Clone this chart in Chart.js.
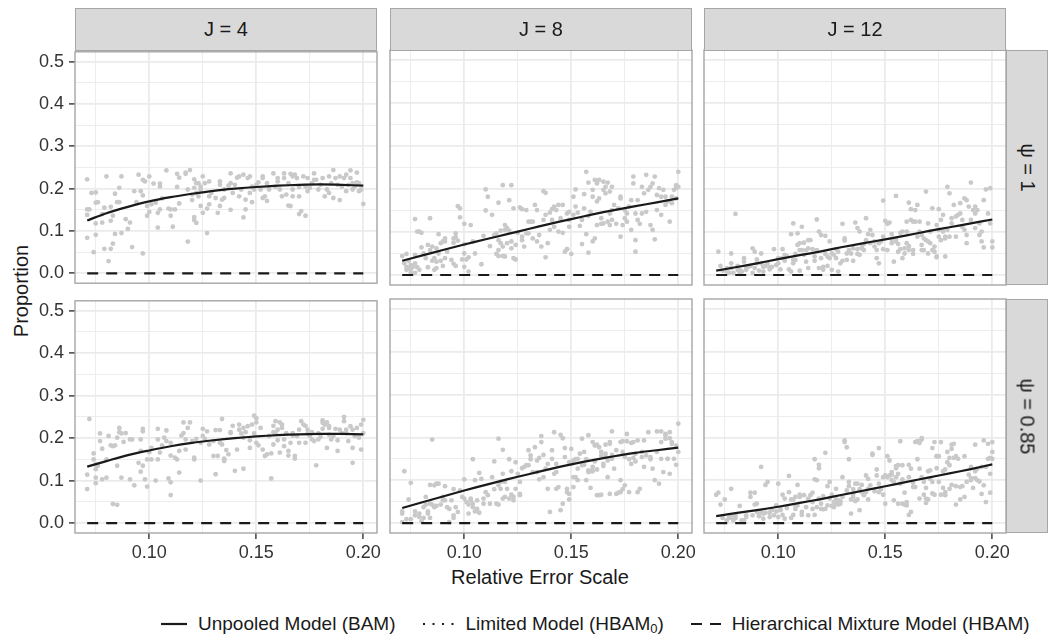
<!DOCTYPE html>
<html>
<head>
<meta charset="utf-8">
<script src="https://cdn.jsdelivr.net/npm/chart.js@4.4.1/dist/chart.umd.min.js"></script>
<style>
  body { margin: 0; background: #fff; width: 1051px; height: 644px; overflow: hidden; position: relative;
         font-family: "Liberation Sans", Arial, sans-serif; }
  canvas { position: absolute; }
  .strip { position: absolute; box-sizing: border-box; background: #d9d9d9; border: 1px solid #a6a6a6;
           color: #1a1a1a; font-size: 20px; display: flex; align-items: center; justify-content: center; }
  .strip.side span { transform: rotate(90deg); white-space: nowrap; }
  .title { position: absolute; color: #1a1a1a; font-size: 20px; white-space: nowrap; }
  #legend { position: absolute; left: 160px; top: 612px; height: 24px; display: flex;
            align-items: center; font-size: 19px; color: #1a1a1a; }
  #legend svg { margin-right: 10px; }
  #legend .lab { margin-right: 26px; white-space: nowrap; }
  #legend .lab:last-child { margin-right: 0; }
  #legend sub { font-size: 13px; vertical-align: -3px; line-height: 0; }
</style>
</head>
<body>
<div class="title" style="left:540px; top:577px; transform: translate(-50%, -50%);">Relative Error Scale</div>
<div class="title" style="left:21px; top:291px; transform: translate(-50%, -50%) rotate(-90deg);">Proportion</div>
<div id="legend">
  <svg width="28" height="10"><line x1="1" y1="5" x2="27" y2="5" stroke="#1a1a1a" stroke-width="2.2"/></svg>
  <span class="lab">Unpooled Model (BAM)</span>
  <svg width="34" height="10"><line x1="2" y1="5" x2="33" y2="5" stroke="#1a1a1a" stroke-width="2.2" stroke-dasharray="2 7.5"/></svg>
  <span class="lab">Limited Model (HBAM<sub>0</sub>)</span>
  <svg width="32" height="10"><line x1="1" y1="5" x2="31" y2="5" stroke="#1a1a1a" stroke-width="2.2" stroke-dasharray="11 8"/></svg>
  <span class="lab">Hierarchical Mixture Model (HBAM)</span>
</div>
<script>
// facet labels and axis ticks
const jLabels = ['J = 4', 'J = 8', 'J = 12'];
const psiLabels = ['ψ = 1', 'ψ = 0.85'];
const xMajor = [0.10, 0.15, 0.20];
const xMinor = [0.075, 0.125, 0.175];
const yMajor = [0.0, 0.1, 0.2, 0.3, 0.4, 0.5];
const yMinor = [0.05, 0.15, 0.25, 0.35, 0.45];

// fitted curves (Unpooled Model) and the Hierarchical Mixture Model line
const curveX = [0.071, 0.08, 0.09, 0.10, 0.11, 0.12, 0.13, 0.14, 0.15, 0.16, 0.17, 0.18, 0.19, 0.20];
const bamJ4Psi1 = [0.125, 0.142, 0.157, 0.170, 0.180, 0.188, 0.195, 0.200, 0.204, 0.207, 0.209, 0.210, 0.209, 0.207];
const bamJ8Psi1 = [0.033, 0.045, 0.058, 0.071, 0.083, 0.095, 0.107, 0.119, 0.130, 0.141, 0.151, 0.160, 0.169, 0.178];
const bamJ12Psi1 = [0.010, 0.018, 0.027, 0.037, 0.046, 0.055, 0.065, 0.074, 0.083, 0.092, 0.102, 0.111, 0.120, 0.129];
const bamJ4Psi85 = [0.133, 0.146, 0.160, 0.171, 0.181, 0.189, 0.195, 0.200, 0.204, 0.207, 0.209, 0.210, 0.210, 0.209];
const bamJ8Psi85 = [0.035, 0.048, 0.062, 0.076, 0.089, 0.102, 0.114, 0.126, 0.137, 0.147, 0.156, 0.164, 0.170, 0.176];
const bamJ12Psi85 = [0.016, 0.023, 0.030, 0.038, 0.047, 0.056, 0.066, 0.076, 0.086, 0.096, 0.106, 0.116, 0.126, 0.137];
const hbamY = [0, 0, 0, 0, 0, 0, 0, 0, 0, 0, 0, 0, 0, 0];

// simulation replicates [relative error scale, proportion]
const ptsJ4Psi1 = [[0.071,0.222],[0.071,0.151],[0.071,0.138],[0.071,0.084],[0.072,0.151],[0.073,0.190],[0.074,0.050],[0.075,0.167],[0.075,0.191],[0.075,0.118],[0.075,0.091],[0.076,0.168],[0.078,0.140],[0.078,0.120],[0.079,0.058],[0.079,0.155],[0.080,0.229],[0.081,0.029],[0.082,0.157],[0.082,0.058],[0.082,0.124],[0.083,0.070],[0.083,0.136],[0.084,0.188],[0.084,0.093],[0.085,0.168],[0.086,0.202],[0.086,0.168],[0.087,0.229],[0.087,0.095],[0.089,0.128],[0.090,0.105],[0.091,0.120],[0.092,0.062],[0.093,0.194],[0.094,0.168],[0.095,0.233],[0.096,0.194],[0.097,0.184],[0.097,0.047],[0.097,0.221],[0.098,0.217],[0.099,0.159],[0.099,0.136],[0.100,0.145],[0.100,0.229],[0.101,0.163],[0.102,0.212],[0.103,0.167],[0.104,0.108],[0.104,0.143],[0.105,0.212],[0.105,0.151],[0.105,0.205],[0.106,0.177],[0.108,0.243],[0.109,0.153],[0.110,0.151],[0.110,0.136],[0.111,0.110],[0.112,0.151],[0.113,0.235],[0.113,0.204],[0.114,0.165],[0.114,0.226],[0.117,0.235],[0.117,0.238],[0.118,0.075],[0.118,0.198],[0.119,0.244],[0.120,0.173],[0.120,0.186],[0.121,0.133],[0.121,0.222],[0.121,0.202],[0.121,0.126],[0.122,0.213],[0.122,0.119],[0.122,0.190],[0.123,0.182],[0.123,0.213],[0.124,0.159],[0.124,0.198],[0.124,0.205],[0.125,0.143],[0.125,0.229],[0.126,0.213],[0.127,0.153],[0.127,0.095],[0.128,0.182],[0.128,0.217],[0.128,0.163],[0.129,0.190],[0.131,0.178],[0.132,0.143],[0.133,0.217],[0.133,0.209],[0.133,0.159],[0.134,0.174],[0.135,0.178],[0.135,0.198],[0.137,0.207],[0.138,0.236],[0.138,0.150],[0.138,0.213],[0.139,0.190],[0.140,0.209],[0.141,0.226],[0.142,0.182],[0.142,0.229],[0.143,0.198],[0.144,0.233],[0.144,0.132],[0.145,0.174],[0.145,0.151],[0.146,0.225],[0.147,0.190],[0.147,0.229],[0.148,0.205],[0.148,0.168],[0.149,0.198],[0.150,0.209],[0.151,0.215],[0.152,0.198],[0.153,0.225],[0.153,0.178],[0.153,0.229],[0.154,0.182],[0.155,0.171],[0.155,0.213],[0.156,0.198],[0.158,0.236],[0.159,0.204],[0.160,0.217],[0.160,0.225],[0.161,0.198],[0.162,0.182],[0.163,0.225],[0.163,0.236],[0.164,0.186],[0.165,0.160],[0.165,0.213],[0.166,0.159],[0.166,0.235],[0.167,0.229],[0.167,0.182],[0.167,0.198],[0.168,0.233],[0.169,0.225],[0.170,0.140],[0.170,0.204],[0.170,0.182],[0.171,0.147],[0.172,0.229],[0.173,0.136],[0.173,0.205],[0.174,0.194],[0.174,0.225],[0.175,0.202],[0.176,0.213],[0.177,0.221],[0.177,0.236],[0.178,0.221],[0.179,0.198],[0.180,0.209],[0.181,0.225],[0.182,0.182],[0.183,0.198],[0.184,0.229],[0.184,0.190],[0.185,0.213],[0.186,0.244],[0.186,0.178],[0.187,0.225],[0.188,0.209],[0.189,0.229],[0.189,0.173],[0.190,0.205],[0.191,0.225],[0.192,0.233],[0.192,0.194],[0.193,0.209],[0.194,0.243],[0.194,0.225],[0.195,0.213],[0.195,0.198],[0.196,0.205],[0.197,0.215],[0.197,0.238],[0.198,0.194],[0.198,0.213],[0.199,0.198],[0.200,0.164]];

const ptsJ8Psi1 = [[0.071,0.044],[0.072,0.027],[0.073,0.019],[0.073,0.012],[0.073,0.049],[0.074,0.033],[0.074,0.016],[0.075,0.005],[0.075,0.023],[0.075,0.012],[0.076,0.019],[0.077,0.130],[0.077,0.047],[0.077,0.027],[0.077,0.005],[0.078,0.018],[0.078,0.101],[0.079,0.012],[0.079,0.101],[0.080,0.098],[0.080,0.064],[0.081,0.050],[0.082,0.039],[0.083,0.070],[0.083,0.018],[0.084,0.058],[0.084,0.132],[0.085,0.066],[0.085,0.033],[0.086,0.039],[0.086,0.012],[0.087,0.031],[0.087,0.062],[0.087,0.016],[0.088,0.095],[0.088,0.050],[0.089,0.074],[0.089,0.033],[0.090,0.078],[0.090,0.021],[0.091,0.085],[0.091,0.078],[0.091,0.039],[0.092,0.054],[0.094,0.035],[0.095,0.085],[0.095,0.075],[0.095,0.026],[0.096,0.088],[0.096,0.021],[0.096,0.097],[0.097,0.160],[0.097,0.080],[0.098,0.155],[0.098,0.134],[0.099,0.036],[0.100,0.050],[0.100,0.119],[0.100,0.072],[0.100,0.019],[0.101,0.036],[0.102,0.008],[0.102,0.041],[0.103,0.116],[0.104,0.078],[0.105,0.050],[0.108,0.025],[0.109,0.091],[0.110,0.199],[0.110,0.150],[0.111,0.182],[0.112,0.067],[0.113,0.140],[0.114,0.093],[0.115,0.097],[0.115,0.049],[0.116,0.168],[0.116,0.058],[0.116,0.044],[0.116,0.081],[0.117,0.074],[0.117,0.103],[0.118,0.066],[0.118,0.209],[0.118,0.044],[0.119,0.105],[0.119,0.116],[0.119,0.043],[0.120,0.074],[0.120,0.109],[0.121,0.174],[0.121,0.103],[0.122,0.209],[0.122,0.078],[0.122,0.062],[0.123,0.039],[0.123,0.155],[0.124,0.036],[0.124,0.070],[0.125,0.098],[0.126,0.157],[0.127,0.089],[0.127,0.081],[0.127,0.153],[0.128,0.066],[0.129,0.097],[0.129,0.151],[0.130,0.124],[0.130,0.097],[0.131,0.124],[0.132,0.124],[0.132,0.085],[0.133,0.163],[0.134,0.151],[0.134,0.078],[0.135,0.093],[0.136,0.066],[0.137,0.128],[0.137,0.195],[0.138,0.041],[0.138,0.140],[0.138,0.191],[0.139,0.074],[0.140,0.145],[0.140,0.105],[0.141,0.153],[0.141,0.128],[0.142,0.159],[0.142,0.112],[0.143,0.151],[0.144,0.163],[0.144,0.101],[0.145,0.132],[0.146,0.098],[0.146,0.163],[0.147,0.054],[0.148,0.060],[0.148,0.143],[0.148,0.060],[0.149,0.128],[0.149,0.147],[0.149,0.112],[0.150,0.049],[0.151,0.182],[0.151,0.140],[0.152,0.199],[0.152,0.159],[0.153,0.145],[0.154,0.114],[0.155,0.128],[0.155,0.072],[0.156,0.188],[0.156,0.155],[0.157,0.240],[0.157,0.095],[0.158,0.215],[0.158,0.052],[0.158,0.137],[0.159,0.147],[0.160,0.198],[0.160,0.078],[0.160,0.182],[0.161,0.085],[0.161,0.221],[0.162,0.171],[0.162,0.116],[0.162,0.213],[0.163,0.178],[0.163,0.221],[0.164,0.119],[0.164,0.132],[0.165,0.120],[0.165,0.198],[0.165,0.217],[0.166,0.190],[0.166,0.205],[0.167,0.124],[0.167,0.215],[0.168,0.194],[0.168,0.116],[0.168,0.143],[0.169,0.151],[0.169,0.205],[0.169,0.128],[0.170,0.163],[0.171,0.119],[0.172,0.155],[0.173,0.182],[0.173,0.089],[0.173,0.178],[0.174,0.116],[0.175,0.132],[0.175,0.151],[0.176,0.143],[0.176,0.124],[0.177,0.159],[0.178,0.105],[0.178,0.174],[0.179,0.229],[0.179,0.213],[0.180,0.054],[0.180,0.081],[0.180,0.143],[0.181,0.174],[0.181,0.128],[0.182,0.119],[0.183,0.205],[0.183,0.143],[0.184,0.190],[0.185,0.233],[0.185,0.147],[0.186,0.198],[0.187,0.205],[0.187,0.116],[0.188,0.213],[0.188,0.105],[0.189,0.083],[0.189,0.229],[0.190,0.151],[0.190,0.186],[0.191,0.202],[0.192,0.140],[0.192,0.182],[0.193,0.198],[0.194,0.163],[0.194,0.182],[0.195,0.171],[0.196,0.124],[0.197,0.182],[0.197,0.167],[0.198,0.198],[0.199,0.209],[0.199,0.202],[0.199,0.178],[0.200,0.240],[0.200,0.205]];

const ptsJ12Psi1 = [[0.072,0.054],[0.073,0.021],[0.074,0.010],[0.076,0.008],[0.076,0.016],[0.077,0.005],[0.078,0.050],[0.078,0.027],[0.078,0.016],[0.079,0.005],[0.080,0.142],[0.081,0.012],[0.081,0.021],[0.082,0.005],[0.082,0.012],[0.083,0.008],[0.084,0.031],[0.084,0.039],[0.085,0.016],[0.085,0.012],[0.086,0.019],[0.087,0.021],[0.088,0.062],[0.088,0.005],[0.089,0.016],[0.089,0.054],[0.090,0.027],[0.090,0.036],[0.091,0.010],[0.092,0.050],[0.092,0.027],[0.093,0.019],[0.093,0.008],[0.094,0.021],[0.095,0.027],[0.096,0.013],[0.096,0.018],[0.097,0.019],[0.098,0.060],[0.099,0.023],[0.100,0.027],[0.100,0.039],[0.101,0.013],[0.102,0.039],[0.102,0.060],[0.103,0.033],[0.103,0.047],[0.104,0.044],[0.105,0.013],[0.106,0.008],[0.106,0.095],[0.107,0.027],[0.107,0.035],[0.107,0.120],[0.108,0.035],[0.108,0.049],[0.109,0.097],[0.109,0.070],[0.110,0.058],[0.110,0.010],[0.110,0.074],[0.111,0.058],[0.111,0.112],[0.112,0.047],[0.112,0.075],[0.113,0.031],[0.113,0.058],[0.114,0.081],[0.114,0.016],[0.114,0.062],[0.115,0.081],[0.116,0.060],[0.117,0.033],[0.117,0.043],[0.118,0.129],[0.118,0.058],[0.119,0.101],[0.119,0.016],[0.120,0.093],[0.120,0.039],[0.121,0.019],[0.121,0.012],[0.122,0.091],[0.122,0.049],[0.123,0.043],[0.123,0.021],[0.124,0.039],[0.124,0.078],[0.125,0.050],[0.125,0.012],[0.126,0.047],[0.127,0.060],[0.127,0.039],[0.128,0.008],[0.128,0.054],[0.129,0.027],[0.130,0.119],[0.130,0.033],[0.131,0.080],[0.131,0.085],[0.132,0.050],[0.132,0.035],[0.133,0.058],[0.134,0.050],[0.135,0.033],[0.135,0.062],[0.136,0.122],[0.137,0.049],[0.137,0.060],[0.137,0.109],[0.138,0.101],[0.138,0.047],[0.139,0.062],[0.139,0.064],[0.140,0.058],[0.140,0.072],[0.141,0.081],[0.141,0.132],[0.142,0.095],[0.143,0.074],[0.143,0.105],[0.144,0.093],[0.145,0.078],[0.145,0.066],[0.146,0.058],[0.146,0.039],[0.147,0.027],[0.147,0.074],[0.148,0.078],[0.149,0.089],[0.149,0.173],[0.149,0.060],[0.150,0.126],[0.151,0.058],[0.151,0.119],[0.152,0.122],[0.153,0.074],[0.153,0.095],[0.153,0.083],[0.154,0.031],[0.155,0.184],[0.155,0.078],[0.155,0.083],[0.156,0.054],[0.156,0.072],[0.157,0.098],[0.157,0.060],[0.158,0.101],[0.158,0.039],[0.159,0.062],[0.159,0.050],[0.160,0.124],[0.160,0.074],[0.160,0.101],[0.161,0.168],[0.161,0.058],[0.161,0.067],[0.162,0.153],[0.162,0.128],[0.163,0.058],[0.163,0.124],[0.163,0.049],[0.164,0.151],[0.164,0.124],[0.165,0.163],[0.165,0.089],[0.166,0.101],[0.166,0.124],[0.167,0.093],[0.167,0.058],[0.167,0.070],[0.168,0.085],[0.168,0.058],[0.169,0.194],[0.169,0.081],[0.170,0.050],[0.170,0.120],[0.170,0.078],[0.171,0.101],[0.171,0.074],[0.172,0.058],[0.172,0.155],[0.173,0.054],[0.173,0.066],[0.174,0.041],[0.174,0.116],[0.174,0.043],[0.175,0.089],[0.175,0.153],[0.175,0.105],[0.176,0.128],[0.176,0.081],[0.177,0.140],[0.177,0.101],[0.178,0.043],[0.178,0.085],[0.178,0.089],[0.179,0.105],[0.179,0.205],[0.180,0.089],[0.180,0.190],[0.181,0.120],[0.181,0.132],[0.182,0.163],[0.183,0.089],[0.183,0.136],[0.184,0.140],[0.185,0.143],[0.185,0.167],[0.186,0.112],[0.186,0.128],[0.187,0.178],[0.187,0.105],[0.188,0.174],[0.188,0.074],[0.188,0.093],[0.189,0.159],[0.190,0.128],[0.190,0.215],[0.191,0.151],[0.192,0.143],[0.192,0.109],[0.192,0.159],[0.193,0.151],[0.194,0.120],[0.194,0.093],[0.195,0.101],[0.195,0.078],[0.196,0.174],[0.196,0.064],[0.197,0.199],[0.198,0.143],[0.199,0.202],[0.199,0.120],[0.200,0.078],[0.200,0.064]];

const ptsJ4Psi85 = [[0.071,0.114],[0.071,0.080],[0.072,0.245],[0.074,0.164],[0.074,0.150],[0.075,0.127],[0.075,0.138],[0.075,0.107],[0.075,0.094],[0.076,0.135],[0.077,0.211],[0.077,0.193],[0.078,0.175],[0.078,0.103],[0.080,0.150],[0.080,0.107],[0.081,0.205],[0.082,0.183],[0.083,0.181],[0.083,0.045],[0.084,0.183],[0.085,0.043],[0.085,0.201],[0.085,0.135],[0.086,0.224],[0.086,0.214],[0.087,0.107],[0.087,0.211],[0.088,0.191],[0.089,0.212],[0.091,0.103],[0.091,0.197],[0.092,0.197],[0.093,0.089],[0.095,0.142],[0.096,0.197],[0.096,0.121],[0.096,0.170],[0.097,0.135],[0.097,0.222],[0.097,0.216],[0.098,0.103],[0.099,0.086],[0.099,0.150],[0.100,0.167],[0.101,0.150],[0.101,0.177],[0.103,0.100],[0.104,0.222],[0.104,0.150],[0.104,0.197],[0.105,0.166],[0.106,0.183],[0.107,0.201],[0.108,0.218],[0.108,0.193],[0.109,0.105],[0.110,0.189],[0.110,0.096],[0.110,0.066],[0.110,0.159],[0.112,0.154],[0.113,0.150],[0.114,0.119],[0.114,0.170],[0.115,0.206],[0.116,0.237],[0.116,0.212],[0.117,0.173],[0.117,0.197],[0.118,0.224],[0.119,0.237],[0.120,0.193],[0.121,0.154],[0.121,0.150],[0.122,0.198],[0.124,0.189],[0.124,0.100],[0.125,0.205],[0.125,0.222],[0.126,0.198],[0.127,0.216],[0.128,0.185],[0.130,0.158],[0.130,0.193],[0.131,0.115],[0.131,0.219],[0.132,0.158],[0.133,0.219],[0.133,0.189],[0.134,0.245],[0.134,0.185],[0.135,0.152],[0.135,0.146],[0.135,0.150],[0.136,0.172],[0.137,0.162],[0.138,0.214],[0.138,0.212],[0.139,0.229],[0.140,0.123],[0.141,0.173],[0.142,0.232],[0.142,0.220],[0.143,0.211],[0.144,0.201],[0.144,0.128],[0.144,0.224],[0.145,0.214],[0.146,0.228],[0.147,0.177],[0.147,0.195],[0.148,0.232],[0.149,0.211],[0.149,0.253],[0.150,0.189],[0.150,0.247],[0.150,0.237],[0.151,0.183],[0.152,0.224],[0.153,0.173],[0.154,0.158],[0.155,0.162],[0.156,0.205],[0.157,0.105],[0.157,0.164],[0.158,0.214],[0.158,0.229],[0.158,0.185],[0.159,0.240],[0.159,0.212],[0.160,0.195],[0.160,0.220],[0.161,0.237],[0.161,0.166],[0.162,0.224],[0.162,0.232],[0.163,0.181],[0.163,0.197],[0.164,0.212],[0.165,0.159],[0.165,0.170],[0.166,0.189],[0.167,0.212],[0.167,0.206],[0.168,0.158],[0.168,0.152],[0.169,0.205],[0.170,0.189],[0.170,0.220],[0.171,0.240],[0.172,0.232],[0.173,0.229],[0.173,0.189],[0.174,0.220],[0.174,0.211],[0.175,0.205],[0.176,0.197],[0.176,0.214],[0.177,0.193],[0.178,0.136],[0.179,0.212],[0.179,0.197],[0.180,0.203],[0.181,0.242],[0.181,0.236],[0.181,0.222],[0.182,0.232],[0.183,0.177],[0.183,0.237],[0.184,0.208],[0.184,0.228],[0.184,0.224],[0.185,0.197],[0.186,0.205],[0.187,0.222],[0.188,0.195],[0.188,0.170],[0.189,0.220],[0.190,0.212],[0.191,0.250],[0.191,0.240],[0.192,0.220],[0.192,0.212],[0.193,0.193],[0.194,0.228],[0.195,0.142],[0.195,0.177],[0.195,0.220],[0.196,0.205],[0.197,0.224],[0.198,0.201],[0.199,0.173],[0.199,0.232],[0.200,0.243],[0.200,0.212]];

const ptsJ8Psi85 = [[0.071,0.027],[0.071,0.022],[0.071,0.002],[0.072,0.121],[0.073,0.009],[0.074,0.055],[0.075,0.094],[0.075,0.009],[0.077,0.027],[0.077,0.018],[0.079,0.022],[0.079,0.014],[0.080,0.004],[0.081,0.037],[0.081,0.012],[0.082,0.061],[0.082,0.043],[0.083,0.022],[0.083,0.027],[0.084,0.045],[0.084,0.089],[0.084,0.012],[0.085,0.043],[0.085,0.195],[0.086,0.037],[0.086,0.088],[0.087,0.092],[0.087,0.040],[0.088,0.092],[0.089,0.043],[0.090,0.053],[0.090,0.061],[0.091,0.053],[0.091,0.086],[0.092,0.037],[0.093,0.002],[0.093,0.033],[0.094,0.053],[0.095,0.079],[0.095,0.012],[0.095,0.018],[0.096,0.037],[0.097,0.026],[0.098,0.076],[0.099,0.061],[0.100,0.102],[0.100,0.057],[0.101,0.049],[0.102,0.043],[0.102,0.022],[0.103,0.057],[0.103,0.053],[0.104,0.149],[0.104,0.045],[0.104,0.037],[0.105,0.100],[0.105,0.027],[0.106,0.033],[0.106,0.053],[0.107,0.024],[0.107,0.117],[0.108,0.103],[0.109,0.045],[0.109,0.057],[0.110,0.072],[0.111,0.065],[0.112,0.045],[0.113,0.107],[0.114,0.144],[0.114,0.079],[0.115,0.045],[0.116,0.197],[0.116,0.088],[0.116,0.043],[0.117,0.080],[0.117,0.096],[0.118,0.115],[0.118,0.171],[0.118,0.057],[0.119,0.096],[0.119,0.061],[0.120,0.080],[0.121,0.149],[0.121,0.057],[0.122,0.066],[0.122,0.121],[0.123,0.061],[0.123,0.053],[0.124,0.142],[0.124,0.080],[0.125,0.115],[0.126,0.068],[0.126,0.065],[0.126,0.096],[0.127,0.128],[0.128,0.131],[0.129,0.135],[0.130,0.135],[0.130,0.170],[0.131,0.158],[0.131,0.149],[0.132,0.119],[0.133,0.177],[0.134,0.119],[0.134,0.146],[0.135,0.152],[0.135,0.102],[0.136,0.203],[0.136,0.189],[0.137,0.107],[0.137,0.159],[0.138,0.127],[0.139,0.138],[0.139,0.080],[0.140,0.026],[0.141,0.150],[0.141,0.170],[0.142,0.115],[0.142,0.212],[0.143,0.119],[0.143,0.080],[0.143,0.138],[0.144,0.084],[0.145,0.206],[0.145,0.030],[0.146,0.198],[0.146,0.045],[0.147,0.175],[0.147,0.154],[0.148,0.080],[0.148,0.072],[0.149,0.068],[0.149,0.142],[0.149,0.055],[0.150,0.138],[0.150,0.173],[0.151,0.084],[0.151,0.146],[0.151,0.107],[0.152,0.107],[0.152,0.149],[0.153,0.100],[0.153,0.127],[0.153,0.150],[0.154,0.162],[0.155,0.135],[0.155,0.197],[0.156,0.136],[0.156,0.166],[0.157,0.100],[0.157,0.149],[0.158,0.123],[0.158,0.119],[0.158,0.205],[0.159,0.082],[0.159,0.121],[0.160,0.189],[0.160,0.131],[0.160,0.121],[0.161,0.181],[0.161,0.144],[0.162,0.125],[0.162,0.183],[0.162,0.065],[0.163,0.177],[0.163,0.065],[0.164,0.158],[0.164,0.166],[0.164,0.066],[0.165,0.133],[0.165,0.138],[0.166,0.183],[0.166,0.154],[0.166,0.162],[0.167,0.107],[0.167,0.146],[0.168,0.189],[0.168,0.068],[0.168,0.185],[0.169,0.150],[0.169,0.159],[0.169,0.214],[0.170,0.127],[0.171,0.068],[0.171,0.170],[0.172,0.071],[0.173,0.072],[0.173,0.189],[0.173,0.100],[0.174,0.166],[0.174,0.191],[0.174,0.079],[0.175,0.154],[0.175,0.088],[0.176,0.191],[0.176,0.208],[0.177,0.072],[0.177,0.149],[0.178,0.138],[0.178,0.187],[0.179,0.189],[0.179,0.152],[0.180,0.162],[0.180,0.144],[0.181,0.193],[0.181,0.072],[0.182,0.080],[0.183,0.166],[0.183,0.154],[0.184,0.131],[0.184,0.193],[0.185,0.158],[0.186,0.212],[0.187,0.149],[0.187,0.154],[0.188,0.127],[0.189,0.100],[0.190,0.214],[0.190,0.166],[0.191,0.092],[0.192,0.189],[0.192,0.214],[0.192,0.150],[0.193,0.119],[0.194,0.205],[0.194,0.208],[0.194,0.197],[0.195,0.150],[0.195,0.150],[0.196,0.212],[0.196,0.115],[0.196,0.198],[0.197,0.185],[0.197,0.189],[0.198,0.150],[0.199,0.136],[0.199,0.181],[0.200,0.166],[0.200,0.232]];

const ptsJ12Psi85 = [[0.071,0.066],[0.072,0.071],[0.073,0.043],[0.074,0.012],[0.075,0.055],[0.076,0.006],[0.077,0.012],[0.078,0.080],[0.078,0.014],[0.079,0.006],[0.080,0.012],[0.080,0.018],[0.082,0.040],[0.083,0.006],[0.083,0.006],[0.084,0.006],[0.085,0.018],[0.085,0.014],[0.087,0.071],[0.087,0.061],[0.088,0.018],[0.089,0.043],[0.089,0.071],[0.090,0.045],[0.090,0.026],[0.091,0.016],[0.091,0.019],[0.092,0.026],[0.092,0.131],[0.093,0.010],[0.093,0.022],[0.094,0.024],[0.094,0.089],[0.095,0.096],[0.096,0.024],[0.096,0.014],[0.097,0.030],[0.098,0.018],[0.099,0.041],[0.099,0.027],[0.100,0.014],[0.100,0.092],[0.101,0.033],[0.101,0.030],[0.102,0.019],[0.102,0.066],[0.103,0.057],[0.103,0.010],[0.104,0.035],[0.105,0.110],[0.105,0.072],[0.106,0.055],[0.106,0.012],[0.107,0.019],[0.107,0.055],[0.108,0.061],[0.108,0.040],[0.108,0.033],[0.109,0.089],[0.109,0.041],[0.110,0.066],[0.110,0.061],[0.111,0.019],[0.111,0.026],[0.112,0.065],[0.113,0.037],[0.114,0.018],[0.114,0.057],[0.115,0.065],[0.116,0.071],[0.116,0.033],[0.116,0.049],[0.117,0.019],[0.117,0.149],[0.117,0.102],[0.118,0.037],[0.118,0.100],[0.119,0.136],[0.119,0.057],[0.119,0.128],[0.120,0.045],[0.120,0.033],[0.121,0.032],[0.121,0.063],[0.122,0.164],[0.122,0.033],[0.123,0.041],[0.123,0.086],[0.124,0.096],[0.124,0.057],[0.125,0.040],[0.125,0.066],[0.126,0.049],[0.126,0.037],[0.127,0.055],[0.127,0.080],[0.127,0.045],[0.128,0.051],[0.128,0.043],[0.128,0.053],[0.129,0.045],[0.129,0.051],[0.130,0.107],[0.130,0.061],[0.131,0.193],[0.131,0.189],[0.132,0.076],[0.132,0.177],[0.133,0.086],[0.133,0.096],[0.133,0.149],[0.134,0.022],[0.134,0.055],[0.135,0.068],[0.135,0.079],[0.135,0.061],[0.136,0.092],[0.136,0.051],[0.137,0.055],[0.137,0.092],[0.138,0.030],[0.138,0.079],[0.139,0.072],[0.139,0.089],[0.140,0.065],[0.140,0.066],[0.141,0.111],[0.141,0.072],[0.142,0.055],[0.142,0.080],[0.142,0.103],[0.143,0.088],[0.144,0.162],[0.144,0.159],[0.145,0.074],[0.146,0.111],[0.146,0.125],[0.147,0.175],[0.147,0.072],[0.147,0.092],[0.148,0.079],[0.149,0.066],[0.149,0.107],[0.150,0.045],[0.150,0.111],[0.151,0.107],[0.151,0.156],[0.152,0.111],[0.152,0.146],[0.153,0.113],[0.153,0.119],[0.153,0.100],[0.154,0.096],[0.154,0.053],[0.155,0.128],[0.155,0.107],[0.155,0.133],[0.156,0.135],[0.156,0.045],[0.156,0.115],[0.157,0.092],[0.157,0.191],[0.158,0.135],[0.158,0.102],[0.158,0.045],[0.159,0.043],[0.159,0.071],[0.160,0.041],[0.160,0.049],[0.161,0.019],[0.161,0.107],[0.161,0.136],[0.162,0.127],[0.162,0.026],[0.163,0.094],[0.163,0.084],[0.164,0.084],[0.164,0.189],[0.165,0.149],[0.165,0.191],[0.166,0.187],[0.166,0.127],[0.166,0.057],[0.167,0.107],[0.167,0.198],[0.167,0.195],[0.168,0.096],[0.168,0.066],[0.169,0.082],[0.169,0.057],[0.169,0.047],[0.170,0.055],[0.170,0.121],[0.171,0.103],[0.171,0.123],[0.172,0.096],[0.172,0.175],[0.172,0.069],[0.173,0.066],[0.173,0.189],[0.174,0.156],[0.174,0.128],[0.174,0.156],[0.175,0.096],[0.175,0.156],[0.176,0.066],[0.176,0.189],[0.177,0.082],[0.177,0.121],[0.178,0.072],[0.178,0.065],[0.178,0.125],[0.179,0.142],[0.179,0.166],[0.180,0.152],[0.180,0.080],[0.180,0.135],[0.181,0.173],[0.181,0.183],[0.181,0.089],[0.182,0.152],[0.182,0.185],[0.183,0.086],[0.183,0.156],[0.183,0.043],[0.184,0.150],[0.185,0.084],[0.185,0.055],[0.186,0.086],[0.187,0.156],[0.187,0.061],[0.188,0.096],[0.189,0.113],[0.190,0.105],[0.190,0.100],[0.190,0.131],[0.191,0.082],[0.192,0.121],[0.192,0.183],[0.192,0.105],[0.193,0.100],[0.193,0.127],[0.194,0.097],[0.195,0.068],[0.195,0.131],[0.196,0.088],[0.196,0.193],[0.197,0.049],[0.197,0.131],[0.198,0.150],[0.198,0.185],[0.199,0.115],[0.199,0.071],[0.199,0.152],[0.200,0.166],[0.200,0.189],[0.200,0.150]];

const panelPoints = [[ptsJ4Psi1, ptsJ8Psi1, ptsJ12Psi1], [ptsJ4Psi85, ptsJ8Psi85, ptsJ12Psi85]];
const panelCurves = [[bamJ4Psi1, bamJ8Psi1, bamJ12Psi1], [bamJ4Psi85, bamJ8Psi85, bamJ12Psi85]];

// page layout
const colLeft = [75, 390, 704];
const panelW = 302;
const rowTop = [50, 299];
const rowH = [235, 234];
const axisW = 75, xAxisH = 45, padT = 14, padB = 14, padR = 20;
const fontFamily = '"Liberation Sans", Arial, sans-serif';

const panelBorder = {
  id: 'panelBorder',
  afterDraw(chart) {
    const { ctx, chartArea: a } = chart;
    ctx.save();
    ctx.strokeStyle = '#a6a6a6';
    ctx.lineWidth = 1.4;
    ctx.strokeRect(a.left, a.top, a.right - a.left, a.bottom - a.top);
    ctx.restore();
  }
};

function tickList(major, minor) {
  return major.map(v => ({ value: v, major: true }))
    .concat(minor.map(v => ({ value: v, major: false })))
    .sort((a, b) => a.value - b.value);
}

function gridOpts(showTicks) {
  return {
    color: '#ebebeb',
    lineWidth: c => (c.tick && c.tick.major ? 1.8 : 0.9),
    drawTicks: showTicks,
    tickLength: 6,
    tickWidth: 1.4,
    tickColor: c => (c.tick && c.tick.major ? '#333333' : 'rgba(0,0,0,0)')
  };
}

function makePanel(r, c) {
  const bottom = r === 1, left = c === 0;
  const canvas = document.createElement('canvas');
  canvas.width = axisW + panelW + padR;
  canvas.height = padT + rowH[r] + (bottom ? xAxisH : 0) + padB;
  canvas.style.left = (colLeft[c] - axisW) + 'px';
  canvas.style.top = (rowTop[r] - padT) + 'px';
  document.body.appendChild(canvas);

  const pts = panelPoints[r][c];
  const bam = panelCurves[r][c];

  new Chart(canvas, {
    type: 'scatter',
    data: {
      datasets: [
        {
          label: 'Unpooled Model (BAM)',
          data: curveX.map((x, i) => ({ x: x, y: bam[i] })),
          showLine: true, pointRadius: 0, borderColor: '#1a1a1a', borderWidth: 2.2,
          tension: 0.3, order: 0
        },
        {
          label: 'Hierarchical Mixture Model (HBAM)',
          data: curveX.map((x, i) => ({ x: x, y: hbamY[i] })),
          showLine: true, pointRadius: 0, borderColor: '#1a1a1a', borderWidth: 2.2,
          borderDash: [11, 8], borderCapStyle: 'butt', order: 1
        },
        {
          label: 'replicates',
          data: pts.map(p => ({ x: p[0], y: p[1] })),
          pointRadius: 2.4, backgroundColor: '#c9c9c9', borderWidth: 0, order: 2
        }
      ]
    },
    options: {
      responsive: false,
      animation: false,
      devicePixelRatio: 1,
      events: [],
      layout: { padding: { top: padT, right: padR, bottom: padB, left: 0 } },
      plugins: { legend: { display: false }, tooltip: { enabled: false } },
      scales: {
        x: {
          type: 'linear', min: 0.0653, max: 0.2064,
          afterBuildTicks: s => { s.ticks = tickList(xMajor, xMinor); },
          afterFit: s => { s.height = bottom ? xAxisH : 0; },
          ticks: {
            display: bottom, autoSkip: false, maxRotation: 0, padding: 3, color: '#333333',
            font: { family: fontFamily, size: 18 },
            callback: (v, i, t) => (t[i].major ? v.toFixed(2) : '')
          },
          grid: gridOpts(bottom),
          border: { display: false }
        },
        y: {
          type: 'linear', min: -0.0233, max: 0.5233,
          afterBuildTicks: s => { s.ticks = tickList(yMajor, yMinor); },
          afterFit: s => { s.width = axisW; },
          ticks: {
            display: left, autoSkip: false, padding: 5, color: '#333333',
            font: { family: fontFamily, size: 18 },
            callback: (v, i, t) => (t[i].major ? v.toFixed(1) : '')
          },
          grid: gridOpts(left),
          border: { display: false }
        }
      }
    },
    plugins: [panelBorder]
  });
}

function addStrip(text, x, y, w, h, side) {
  const d = document.createElement('div');
  d.className = 'strip' + (side ? ' side' : '');
  d.style.left = x + 'px'; d.style.top = y + 'px';
  d.style.width = w + 'px'; d.style.height = h + 'px';
  const s = document.createElement('span');
  s.textContent = text;
  d.appendChild(s);
  document.body.appendChild(d);
}

for (let r = 0; r < 2; r++) {
  for (let c = 0; c < 3; c++) makePanel(r, c);
}
jLabels.forEach((t, c) => addStrip(t, colLeft[c], 8, panelW, 43, false));
psiLabels.forEach((t, r) => addStrip(t, colLeft[2] + panelW, rowTop[r], 42, rowH[r], true));
</script>
</body>
</html>
